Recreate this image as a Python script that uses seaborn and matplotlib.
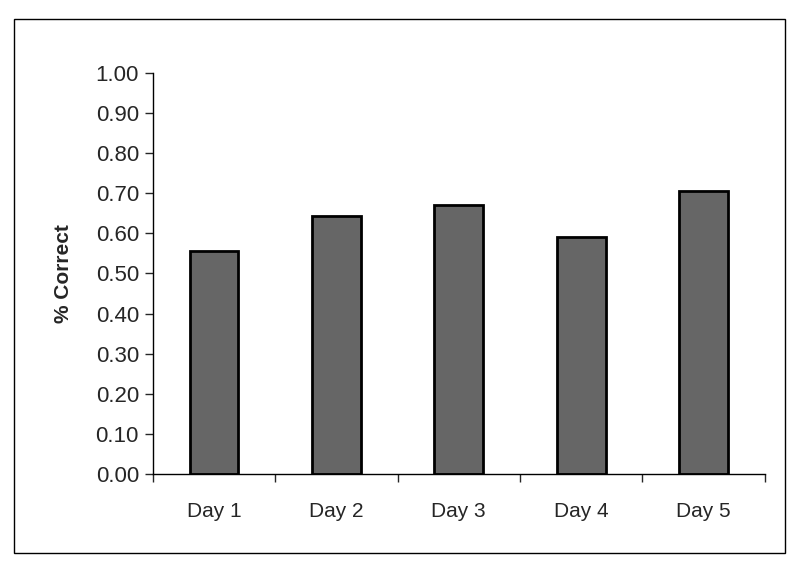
import matplotlib
matplotlib.use("Agg")
import matplotlib.pyplot as plt
from matplotlib.patches import Rectangle
from matplotlib.ticker import FixedLocator, NullFormatter
import seaborn as sns
import numpy as np

days = ["Day 1", "Day 2", "Day 3", "Day 4", "Day 5"]
pct_correct = [0.555, 0.643, 0.670, 0.590, 0.705]
y_ticks = [0.0, 0.1, 0.2, 0.3, 0.4, 0.5, 0.6, 0.7, 0.8, 0.9, 1.0]

sns.set_style("white")
plt.rcParams['font.family'] = ['Liberation Sans', 'DejaVu Sans']

fig = plt.figure(figsize=(8, 5.69), dpi=100)
ax = fig.add_axes([0.191, 0.167, 0.765, 0.705])

sns.barplot(x=days, y=pct_correct, color="#666666", edgecolor="black",
            linewidth=2, width=0.4, saturation=1, ax=ax)

ax.set_ylim(0, 1.0)
ax.set_yticks(y_ticks)
ax.set_yticklabels([f"{v:.2f}" for v in y_ticks], fontsize=16)
ax.set_ylabel("% Correct", fontsize=15, fontweight="bold", labelpad=16)
ax.set_xlabel("")

# category labels in the middle, tick marks on the boundaries
n = len(days)
ax.set_xlim(-0.5, n - 0.5)
ax.xaxis.set_major_locator(FixedLocator(np.arange(-0.5, n, 1.0)))
ax.xaxis.set_major_formatter(NullFormatter())
ax.xaxis.set_minor_locator(FixedLocator(np.arange(n)))
ax.set_xticklabels(days, minor=True, fontsize=15)
ax.tick_params(axis="x", which="major", direction="out", length=6, width=1, bottom=True)
ax.tick_params(axis="x", which="minor", length=0, pad=20)
ax.tick_params(axis="y", direction="out", length=6, width=1, left=True, pad=4)

for s in ["top", "right"]:
    ax.spines[s].set_visible(False)
for s in ["left", "bottom"]:
    ax.spines[s].set_color("black")
    ax.spines[s].set_linewidth(1)

# frame around the whole chart
fig.patches.append(Rectangle((14 / 800, 16 / 569), 771 / 800, 534 / 569,
                             transform=fig.transFigure, fill=False,
                             edgecolor="black", linewidth=1))

fig.savefig("out.png", dpi=100)
